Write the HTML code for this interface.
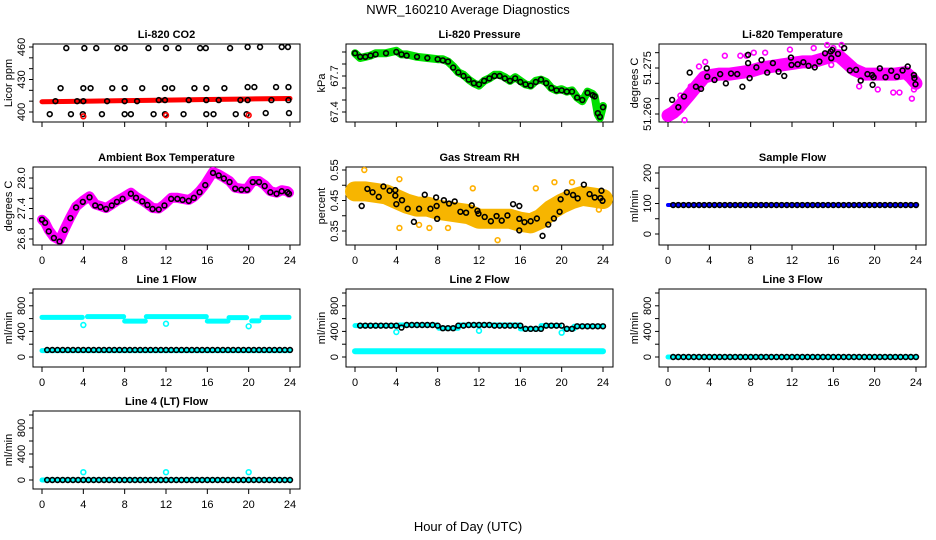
<!DOCTYPE html>
<html><head><meta charset="utf-8"><style>
body{margin:0;background:#fff;}
svg{display:block;font-family:"Liberation Sans",sans-serif;}
</style></head><body>
<svg id="chart" width="936" height="540" viewBox="0 0 936 540">
<text x="468" y="14" text-anchor="middle" font-size="13">NWR_160210  Average Diagnostics</text>
<text x="468" y="531" text-anchor="middle" font-size="13">Hour of Day (UTC)</text>
</svg>
<script>
// ---------- data ----------
const xTicks = [0,4,8,12,16,20,24];
// CO2
const co2BlackT = [2.35,4.1,5.25,7.3,8.0,10.3,12.0,13.2,15.3,15.85,18.2,19.9,21.1,23.2,23.8,
 1.8,4.0,4.7,6.8,8.0,9.7,11.9,12.6,14.75,15.9,17.65,19.9,20.55,22.65,23.85,
 1.3,3.4,4.0,6.3,8.0,9.2,11.3,11.9,14.2,15.9,17.1,19.2,19.9,22.2,23.85,
 0.75,2.8,3.95,5.8,8.0,8.6,10.8,11.9,13.7,15.9,16.6,18.75,19.8,21.65,23.9];
const co2BlackV = [459,459,459,459,459,459,459,459,459,459,459,460,460,460,460,
 422,422,422,422,422,422,422,422,422,422,422,423,423,423,423,
 410,410,410,410,410,410,411,411,411,411,411,411,411,411,411,
 398,398,398,398,398,398,398,398,398,398,398,398,398,399,399];
const co2RedT = [0,4,8,12,16,20,24];
const co2RedV = [409.5,410,410.5,411,411.5,412,412.5];
const co2RedOutT = [4,12,20];
const co2RedOutV = [396,397,397];
// Pressure
const presT = [0,0.5,1,1.5,2,3,4,4.5,5,6,7,8,8.5,9,9.5,10,10.5,11,11.5,12,12.5,13,13.5,14,14.5,15,15.5,16,16.5,17,17.5,18,18.5,19,19.5,20,20.5,21,21.5,22,22.5,23,23.2,23.5,23.7,24];
const presGreen = [67.89,67.85,67.86,67.87,67.89,67.89,67.91,67.88,67.88,67.86,67.85,67.84,67.84,67.82,67.78,67.73,67.71,67.67,67.64,67.62,67.66,67.68,67.71,67.71,67.69,67.66,67.69,67.66,67.63,67.62,67.66,67.67,67.65,67.60,67.58,67.59,67.57,67.58,67.52,67.49,67.57,67.55,67.53,67.38,67.35,67.45];
const presBlack = [67.89,67.86,67.86,67.87,67.88,67.89,67.90,67.88,67.87,67.86,67.85,67.84,67.83,67.82,67.77,67.73,67.70,67.67,67.64,67.63,67.66,67.68,67.70,67.70,67.68,67.66,67.68,67.65,67.63,67.62,67.65,67.67,67.64,67.60,67.58,67.58,67.57,67.57,67.52,67.50,67.56,67.54,67.53,67.39,67.36,67.44];
// Li-820 temperature
const tempBandT = [0,0.5,1,1.5,2,2.5,3,3.5,4,5,6,7,8,9,10,11,12,13,14,15,16,16.5,17,18,19,20,21,22,23,23.5,24];
const tempBandV = [51.2595,51.2605,51.262,51.264,51.266,51.268,51.270,51.272,51.2725,51.273,51.273,51.2735,51.274,51.275,51.2755,51.276,51.2765,51.277,51.277,51.278,51.279,51.279,51.2775,51.2745,51.273,51.273,51.273,51.273,51.2735,51.272,51.270];
const tempPinkT = [0.3,1.2,1.6,1.9,2.2,3.0,3.6,5.5,7.0,7.6,8.3,9.4,11.8,14.1,15.4,15.8,16.0,16.8,18.5,20.3,21.8,22.4,23.6,23.8];
const tempPinkV = [51.2590,51.2660,51.2580,51.2670,51.2690,51.2755,51.2770,51.2790,51.2790,51.2790,51.2800,51.2800,51.2810,51.2815,51.2825,51.2760,51.2815,51.2825,51.2690,51.2680,51.2670,51.2670,51.2650,51.2680];
const tempBlackT = [0.4,1.0,1.55,2.1,2.7,3.2,3.75,3.8,4.5,5.05,5.6,6.1,6.7,7.2,7.75,7.9,7.75,8.55,9.05,9.6,10.15,10.7,11.25,11.9,11.95,12.55,13.1,13.6,14.2,14.65,15.2,15.75,15.8,15.9,16.45,17.05,17.6,18.2,18.65,19.3,19.75,19.8,19.9,20.5,21.05,21.6,22.15,22.7,23.2,23.8,23.85,23.95];
const tempBlackV = [51.2646,51.2622,51.2657,51.2735,51.2689,51.2682,51.2749,51.2722,51.2711,51.2730,51.2700,51.2732,51.2730,51.2689,51.2766,51.2717,51.2793,51.2752,51.2776,51.2735,51.2766,51.2738,51.2724,51.2784,51.2760,51.2762,51.2769,51.2757,51.2752,51.2771,51.2798,51.2804,51.2782,51.2809,51.2796,51.2815,51.2742,51.2744,51.2709,51.2730,51.2727,51.2695,51.2720,51.2749,51.2720,51.2741,51.2722,51.2742,51.2755,51.2727,51.2717,51.2697];
// Ambient box temperature
const boxBandT = [0,0.3,0.65,1.15,1.7,2.2,2.75,3.3,3.95,4.6,5.15,5.65,6.2,6.75,7.25,7.8,8.6,9.1,9.7,10.2,10.7,11.3,11.85,12.5,13.1,13.6,14.2,14.7,15.25,15.8,16.55,17.1,17.6,18.15,18.7,19.3,19.85,20.4,21.0,21.55,22.1,22.7,23.2,23.75,23.9];
const boxBandV = [27.18,27.12,26.98,26.84,26.78,27.0,27.23,27.44,27.55,27.64,27.48,27.45,27.41,27.48,27.55,27.61,27.71,27.63,27.56,27.49,27.41,27.40,27.48,27.61,27.61,27.59,27.57,27.63,27.74,27.88,28.12,28.07,28.01,27.94,27.81,27.79,27.79,27.94,27.94,27.86,27.74,27.71,27.76,27.74,27.71];
const boxBlackV = [27.18,27.12,26.95,26.82,26.75,26.98,27.21,27.42,27.53,27.62,27.46,27.43,27.39,27.46,27.53,27.59,27.69,27.61,27.54,27.47,27.39,27.38,27.46,27.59,27.59,27.57,27.55,27.61,27.72,27.86,28.10,28.05,27.99,27.92,27.79,27.77,27.77,27.92,27.92,27.84,27.72,27.69,27.74,27.72,27.69];
// Gas stream RH
const rhBandT = [0,1,2,3,4,5,6,7,8,9,10,11,12,13,14,15,16,17,18,19,20,21,22,23,24];
const rhBandV = [0.48,0.48,0.475,0.47,0.455,0.44,0.43,0.43,0.42,0.415,0.41,0.405,0.39,0.39,0.39,0.39,0.38,0.375,0.39,0.42,0.44,0.455,0.465,0.46,0.455];
const rhBlackT = [0.65,1.2,1.7,2.3,2.75,3.35,3.9,3.9,4.0,4.55,5.1,5.7,6.2,6.75,7.3,7.85,7.9,7.95,8.6,9.1,9.65,10.2,10.75,11.3,11.85,11.95,12.55,13.15,13.7,14.2,14.75,15.3,15.9,15.9,15.9,16.4,17.0,17.6,18.15,18.7,19.25,19.8,19.9,20.5,21.1,21.55,22.15,22.7,23.2,23.75,23.85,23.95];
const rhBlackV = [0.432,0.488,0.477,0.462,0.496,0.482,0.484,0.466,0.438,0.451,0.423,0.380,0.423,0.469,0.423,0.460,0.432,0.390,0.451,0.440,0.447,0.413,0.410,0.434,0.416,0.407,0.396,0.382,0.399,0.384,0.401,0.438,0.432,0.390,0.352,0.379,0.382,0.391,0.334,0.371,0.391,0.413,0.454,0.477,0.468,0.457,0.502,0.471,0.460,0.458,0.482,0.449];
const rhYellowT = [0.9,4.3,6.2,7.2,11.4,13.8,17.5,19.3,21,23.6,4.3,9.0];
const rhYellowV = [0.55,0.52,0.37,0.36,0.49,0.32,0.49,0.51,0.51,0.42,0.36,0.36];
// flows: times 0.5..24 step 0.5
const flowT = [0.5,1,1.5,2,2.5,3,3.5,4,4.5,5,5.5,6,6.5,7,7.5,8,8.5,9,9.5,10,10.5,11,11.5,12,12.5,13,13.5,14,14.5,15,15.5,16,16.5,17,17.5,18,18.5,19,19.5,20,20.5,21,21.5,22,22.5,23,23.5,24];
const sampleBlack = [95,95,95,95,95,95,95,95,95,95,95,95,95,95,95,95,95,95,95,95,95,95,95,95,95,95,95,95,95,95,95,95,95,95,95,95,95,95,95,95,95,95,95,95,95,95,95,95];
const sampleBlueT = [0,24];
const sampleBlueV = [95,95];
const l1Black = [110,110,110,110,110,110,110,110,110,110,110,110,110,110,110,110,110,110,110,110,110,110,110,110,110,110,110,110,110,110,110,110,110,110,110,110,110,110,110,110,110,110,110,110,110,110,110,110];
const l1CyanStart = [0,4.4,8,10.1,16,18.1,20.3,21.3];
const l1CyanEnd = [3.9,7.9,10,15.9,18,19.8,21,23.9];
const l1CyanVal = [620,630,560,630,560,615,565,620];
const l1DipT = [4,12,20];
const l1DipV = [500,520,480];
const l1LowV = 100;
const l2Black = [490,490,490,490,490,490,490,490,460,500,500,500,500,500,500,490,450,450,450,490,490,500,500,500,500,500,490,490,490,490,490,490,440,440,440,440,490,490,490,490,440,440,480,480,480,480,480,480];
const l2CyanStart = [0,4.3,8.1,10,16,18,20.3,21.2];
const l2CyanEnd = [3.9,7.9,10,15.9,18,19.8,21.2,23.9];
const l2CyanVal = [490,500,450,500,440,490,440,480];
const l2DipT = [4,12,20];
const l2DipV = [390,410,380];
const l2LowV = 90;
const l3Black = [0,0,0,0,0,0,0,0,0,0,0,0,0,0,0,0,0,0,0,0,0,0,0,0,0,0,0,0,0,0,0,0,0,0,0,0,0,0,0,0,0,0,0,0,0,0,0,0];
const l4Black = [0,0,0,0,0,0,0,0,0,0,0,0,0,0,0,0,0,0,0,0,0,0,0,0,0,0,0,0,0,0,0,0,0,0,0,0,0,0,0,0,0,0,0,0,0,0,0,0];
const l4SpikeT = [4,12,20];
const l4SpikeV = [120,120,120];

// ---------- drawing ----------
const NS = "http://www.w3.org/2000/svg";
const svg = document.getElementById("chart");
function mk(tag, attrs, parent){
  const e = document.createElementNS(NS, tag);
  for (const k in attrs) e.setAttribute(k, attrs[k]);
  (parent||svg).appendChild(e);
  return e;
}
const colX0 = [42,355,668];
const rowBottom = [122,245,367,489];

function panel(name, col, row, title, ylab, v1, p1, v2, p2, ticks, labels, showXLabels){
  const g = mk("g", {});
  
  
  const x0 = colX0[col], x24 = x0 + 248;
  const bottom = rowBottom[row], top = bottom - 78;
  const left = x0 - 9, right = x24 + 10;
  const x = t => x0 + (t/24)*(x24-x0);
  const y = v => p1 + (v - v1)*(p2-p1)/(v2-v1);
  const box = mk("rect", {x:left, y:top, width:right-left, height:bottom-top, fill:"none", stroke:"#000", "stroke-width":1}, g);
  
  
  const tt = mk("text", {x:(left+right)/2, y:top-6, "text-anchor":"middle", "font-size":11, "font-weight":"bold"}, g);
  tt.textContent = title;
  
  
  const yl = mk("text", {x:0, y:0, "text-anchor":"middle", "font-size":11, transform:`translate(${left-21},${(top+bottom)/2}) rotate(-90)`}, g);
  yl.textContent = ylab;
  
  
  const ya = mk("g", {}, g);
  
  
  ticks.forEach(v => { mk("line", {x1:left-4, x2:left, y1:y(v), y2:y(v), stroke:"#000"}, ya); });
  labels.forEach(l => {
    const tx = mk("text", {x:0, y:0, "text-anchor":"middle", "font-size":11, transform:`translate(${left-8},${y(l[0])}) rotate(-90)`}, ya);
    tx.textContent = l[1];
    
    
  });
  const xa = mk("g", {}, g);
  
  
  xTicks.forEach(t => {
    mk("line", {x1:x(t), x2:x(t), y1:bottom, y2:bottom+5, stroke:"#000"}, xa);
    if (showXLabels){
      const tx = mk("text", {x:x(t), y:bottom+19, "text-anchor":"middle", "font-size":11}, xa);
      tx.textContent = t;
      
      
    }
  });
  const plot = mk("g", {}, g);
  
  
  return {x, y, g:plot};
}
function band(P, ts, vs, color, w, nm){
  const pts = ts.map((t,i)=>P.x(t).toFixed(1)+","+P.y(vs[i]).toFixed(1)).join(" ");
  const e = mk("polyline", {points:pts, fill:"none", stroke:color, "stroke-width":w, "stroke-linecap":"round", "stroke-linejoin":"round"}, P.g);
  
  
}
function circles(P, ts, vs, color, nm, r, sw){
  ts.forEach((t,i)=>{
    const c = mk("circle", {cx:P.x(t), cy:P.y(vs[i]), r:r||2.4, fill:"none", stroke:color, "stroke-width":sw||1.6}, P.g);
    
    
  });
}
function segs(P, st, en, vals, color, w, nm){
  st.forEach((s,i)=>{
    const l = mk("line", {x1:P.x(s), x2:P.x(en[i]), y1:P.y(vals[i]), y2:P.y(vals[i]), stroke:color, "stroke-width":w, "stroke-linecap":"round"}, P.g);
    
    
  });
}

// CO2
let P = panel("co2",0,0,"Li-820 CO2","Licor ppm",400,112,460,47,[400,410,420,430,440,450,460],[[400,"400"],[430,"430"],[460,"460"]],false);
band(P, co2RedT, co2RedV, "#ff0000", 5, "co2-red-series");
circles(P, co2BlackT, co2BlackV, "#000", "co2-point");
circles(P, co2RedOutT, co2RedOutV, "#ff0000", "co2-red-outlier");
// Pressure
P = panel("pressure",1,0,"Li-820 Pressure","kPa",67.4,112,67.7,76,[67.4,67.5,67.6,67.7,67.8,67.9],[[67.4,"67.4"],[67.7,"67.7"]],false);
band(P, presT, presGreen, "#00e000", 8, "pressure-green-series");
circles(P, presT, presBlack, "#000", "pressure-point");
// Li-820 temperature
P = panel("li820-temp",2,0,"Li-820 Temperature","degrees C",51.26,114,51.275,68,[51.26,51.265,51.27,51.275,51.28],[[51.26,"51.260"],[51.275,"51.275"]],false);
band(P, tempBandT, tempBandV, "#ff00ff", 13, "li820-temp-magenta-series");
circles(P, tempPinkT, tempPinkV, "#ff00ff", "li820-temp-magenta-point");
circles(P, tempBlackT, tempBlackV, "#000", "li820-temp-point");
// Box temp
P = panel("box-temp",0,1,"Ambient Box Temperature","degrees C",26.8,239,28.0,178,[26.8,27.0,27.2,27.4,27.6,27.8,28.0],[[26.8,"26.8"],[27.4,"27.4"],[28.0,"28.0"]],true);
band(P, boxBandT, boxBandV, "#ff00ff", 10, "box-temp-magenta-series");
circles(P, boxBandT, boxBlackV, "#000", "box-temp-point");
// RH
P = panel("rh",1,1,"Gas Stream RH","percent",0.35,231,0.55,170,[0.35,0.40,0.45,0.50,0.55],[[0.35,"0.35"],[0.45,"0.45"],[0.55,"0.55"]],true);
band(P, rhBandT, rhBandV, "#f7b500", 20, "rh-orange-series");
circles(P, rhYellowT, rhYellowV, "#ffb000", "rh-yellow-point");
circles(P, rhBlackT, rhBlackV, "#000", "rh-point");
// Sample flow
P = panel("sample-flow",2,1,"Sample Flow","ml/min",0,234,200,173,[0,50,100,150,200],[[0,"0"],[100,"100"],[200,"200"]],true);
band(P, sampleBlueT, sampleBlueV, "#0000ff", 4, "sample-flow-blue-series");
circles(P, flowT, sampleBlack, "#000", "sample-flow-point");
const flowTicks = [0,200,400,600,800,1000];
const flowLabels = [[0,"0"],[400,"400"],[800,"800"]];
// Line 1
P = panel("line1-flow",0,2,"Line 1 Flow","ml/min",0,357,1000,293,flowTicks,flowLabels,true);
segs(P, l1CyanStart, l1CyanEnd, l1CyanVal, "#00ffff", 5, "line1-cyan-series");
circles(P, l1DipT, l1DipV, "#00ffff", "line1-cyan-dip");
segs(P, [0], [24], [l1LowV], "#00ffff", 5, "line1-cyan-low-series");
circles(P, flowT, l1Black, "#000", "line1-point");
// Line 2
P = panel("line2-flow",1,2,"Line 2 Flow","ml/min",0,357,1000,293,flowTicks,flowLabels,true);
segs(P, l2CyanStart, l2CyanEnd, l2CyanVal, "#00ffff", 5, "line2-cyan-series");
circles(P, l2DipT, l2DipV, "#00ffff", "line2-cyan-dip");
segs(P, [0], [24], [l2LowV], "#00ffff", 6, "line2-cyan-low-series");
circles(P, flowT, l2Black, "#000", "line2-point");
// Line 3
P = panel("line3-flow",2,2,"Line 3 Flow","ml/min",0,357,1000,293,flowTicks,flowLabels,true);
segs(P, [0], [24], [0], "#00ffff", 5, "line3-cyan-series");
circles(P, flowT, l3Black, "#000", "line3-point");
// Line 4
P = panel("line4-flow",0,3,"Line 4 (LT) Flow","ml/min",0,480,800,428,flowTicks,flowLabels,true);
segs(P, [0], [24], [0], "#00ffff", 5, "line4-cyan-series");
circles(P, l4SpikeT, l4SpikeV, "#00ffff", "line4-cyan-spike");
circles(P, flowT, l4Black, "#000", "line4-point");
</script>
</body></html>
